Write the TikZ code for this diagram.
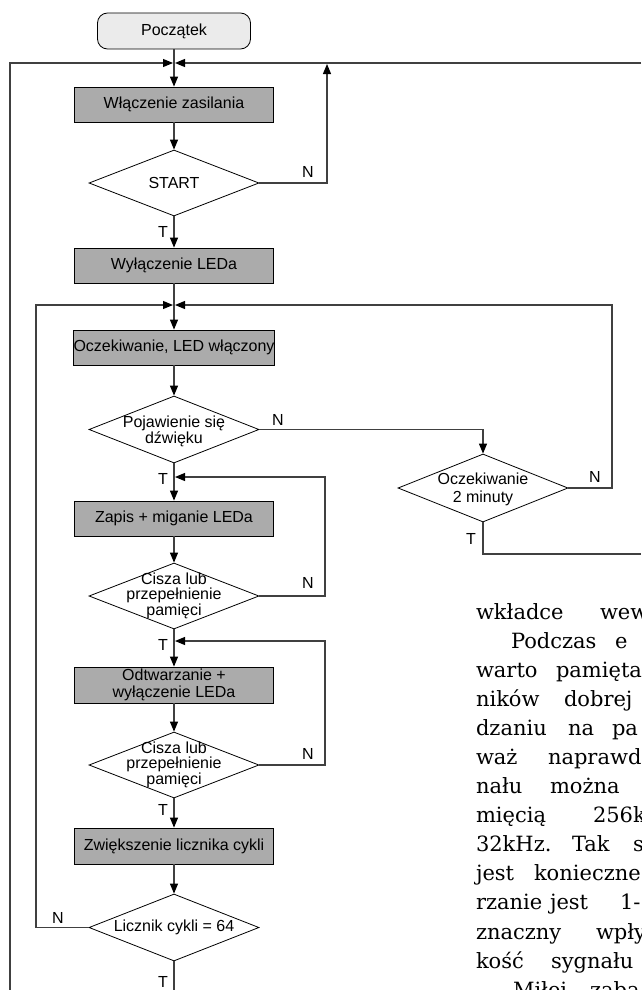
\documentclass[tikz,border=0pt]{standalone}
\usepackage{fontspec}
\setmainfont{Liberation Sans}
\newfontfamily\bodyfont{DejaVu Serif}
\usetikzlibrary{shapes.geometric,arrows.meta,calc}
\begin{document}
\begin{tikzpicture}[x=1pt,y=-1pt,
 every node/.style={font=\fontsize{16}{16}\selectfont},
 line/.style={draw=black!75,line width=1.1pt},
 arr/.style={line,-{Triangle[length=10pt,width=8pt,color=black]}},
 term/.style={draw=black,line width=0.8pt,fill=black!8,rounded corners=10pt,minimum width=153pt,minimum height=36pt,inner sep=0pt},
 proc/.style={draw=black,line width=0.8pt,fill=black!33,minimum width=199pt,minimum height=35pt,inner sep=0pt,align=center},
 dec/.style={diamond,draw=black,line width=0.8pt,fill=white,minimum width=170pt,minimum height=66pt,inner sep=0pt},
 dtext/.style={inner sep=0pt,align=center},
 lbl/.style={inner sep=0pt},
 body/.style={anchor=base west,inner sep=0pt,outer sep=0pt,font=\bodyfont\fontsize{21}{21}\selectfont}]
\useasboundingbox (0,0) rectangle (641,990);
\clip (0,0) rectangle (641,990);

% nodes
\node[term] (pocz) at (174,31) {Początek};
\node[proc] (wlacz) at (174,104.5) {Włączenie zasilania};
\node[dec] (startd) at (174,183) {};
\node[dtext] (startt) at (startd.center) {START};
\node[proc] (wyl) at (174,265.5) {Wyłączenie LEDa};
\node[proc] (ocz) at (174,347.5) {Oczekiwanie, LED włączony};
\node[dec,minimum height=67pt] (poj) at (174,429.5) {};
\node[dtext,font=\fontsize{16}{14}\selectfont] (pojt) at ([yshift=-2pt]poj.center) {Pojawienie się\\dźwięku};
\node[dec,minimum height=68pt] (oczek2) at (483,488) {};
\node[dtext,font=\fontsize{16}{18}\selectfont] (oczek2t) at ([yshift=-1pt]oczek2.center) {Oczekiwanie\\2 minuty};
\node[proc] (zapis) at (174,518.5) {Zapis + miganie LEDa};
\node[dec] (cisza1) at (174,596) {};
\node[dtext,font=\fontsize{16}{14.5}\selectfont] (cisza1t) at (cisza1.center) {Cisza lub\\przepełnienie\\pamięci};
\node[proc,minimum height=36pt,font=\fontsize{16}{17.5}\selectfont] (odtw) at (174,685) {Odtwarzanie +\\wyłączenie LEDa};
\node[dec] (cisza2) at (174,765) {};
\node[dtext,font=\fontsize{16}{14.5}\selectfont] (cisza2t) at (cisza2.center) {Cisza lub\\przepełnienie\\pamięci};
\node[proc,minimum height=36pt] (zwiek) at (174,846) {Zwiększenie licznika cykli};
\node[dec,minimum height=67pt] (licz) at (174,927.5) {};
\node[dtext] (liczt) at (licz.center) {Licznik cykli = 64};

% coordinates
\coordinate (j1) at (174,63);
\coordinate (jl1) at (173,63);
\coordinate (jr1) at (175,63);
\coordinate (bl) at (10,990);
\coordinate (tr) at (641,63);
\coordinate (up1) at (327,64);
\coordinate (j2) at (174,305);
\coordinate (jl2) at (173,305);
\coordinate (jr2) at (175,305);
\coordinate (c36) at (36,305);
\coordinate (c612) at (612,305);
\coordinate (br) at (641,554);
\coordinate (j3) at (174,477);
\coordinate (jr3) at (175,477);
\coordinate (c325a) at (325,477);
\coordinate (j4) at (174,641);
\coordinate (jr4) at (175,641);
\coordinate (c325b) at (325,641);
\coordinate (bot) at (174,990);

% connectors
\draw[line] (pocz) -- (j1);
\draw[arr] (j1) -- (wlacz);
\draw[arr] (bl) |- (jl1);
\draw[arr] (tr) -- (jr1);
\draw[arr] (wlacz) -- (startd);
\draw[arr] (startd.east) -| (up1);
\draw[arr] (startd) -- (wyl);
\draw[line] (wyl) -- (j2);
\draw[arr] (j2) -- (ocz);
\draw[arr] (licz.west) -| (c36) -- (jl2);
\draw[arr] (oczek2.east) -| (c612) -- (jr2);
\draw[arr] (ocz) -- (poj);
\draw[arr] (poj.east) -| (oczek2.north);
\draw[line] (oczek2.south) |- (br);
\draw[line] (poj) -- (j3);
\draw[arr] (j3) -- (zapis);
\draw[arr] (cisza1.east) -| (c325a) -- (jr3);
\draw[arr] (zapis) -- (cisza1);
\draw[line] (cisza1) -- (j4);
\draw[arr] (j4) -- (odtw);
\draw[arr] (cisza2.east) -| (c325b) -- (jr4);
\draw[arr] (odtw) -- (cisza2);
\draw[arr] (cisza2) -- (zwiek);
\draw[arr] (zwiek) -- (licz);
\draw[line] (licz) -- (bot);

% labels
\node[lbl] (n1) at (308,172) {N};
\node[lbl] (t1) at (163,232) {T};
\node[lbl] (n2) at (278,420) {N};
\node[lbl] (t2) at (163,479) {T};
\node[lbl] (n3) at (595,477) {N};
\node[lbl] (t3) at (471,539) {T};
\node[lbl] (n4) at (308,583) {N};
\node[lbl] (t4) at (163,645) {T};
\node[lbl] (n5) at (308,754) {N};
\node[lbl] (t5) at (163,810) {T};
\node[lbl] (n6) at (58,918) {N};
\node[lbl] (t6) at (163,982) {T};

% body text fragment (cut by the right edge)
\node[body] (b1a) at (476,619) {wkładce};
\node[body] (b1b) at (600,619) {wew};
\node[body] (b2a) at (511,648) {Podczas};
\node[body] (b2b) at (615,648) {e};
\node[body] (b3a) at (476,677) {warto};
\node[body] (b3b) at (556,677) {pamięta};
\node[body] (b4a) at (476,706) {ników};
\node[body] (b4b) at (564,706) {dobrej};
\node[body] (b5a) at (476,735) {dzaniu};
\node[body] (b5b) at (568,735) {na};
\node[body] (b5c) at (612,735) {pa};
\node[body] (b6a) at (476,764) {waż};
\node[body] (b6b) at (548,764) {naprawd};
\node[body] (b7a) at (476,793.5) {nału};
\node[body] (b7b) at (550,793.5) {można};
\node[body] (b8a) at (476,822.5) {mięcią};
\node[body] (b8b) at (593,822.5) {256k};
\node[body] (b9a) at (476,851) {32kHz.};
\node[body] (b9b) at (572,851) {Tak};
\node[body] (b9c) at (633,851) {s};
\node[body] (b10a) at (476,880) {jest};
\node[body] (b10b) at (534,880) {konieczne};
\node[body] (b11a) at (476,909.8) {rzanie};
\node[body] (b11b) at (550,909.8) {jest};
\node[body] (b11c) at (620,909.8) {1-};
\node[body] (b12a) at (476,939) {znaczny};
\node[body] (b12b) at (596,939) {wpły};
\node[body] (b13a) at (476,968) {kość};
\node[body] (b13b) at (551,968) {sygnału};
\node[body] (b14a) at (513,997) {Miłej};
\node[body] (b14b) at (590,997) {zaba};
\end{tikzpicture}
\end{document}
